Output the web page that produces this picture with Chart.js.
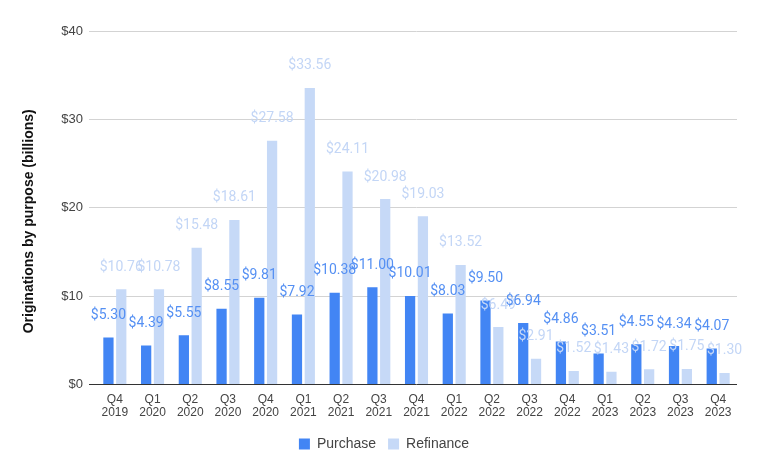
<!DOCTYPE html>
<html>
<head>
<meta charset="utf-8">
<script src="https://cdn.jsdelivr.net/npm/chart.js@4"></script>
<style>
  html, body { margin: 0; padding: 0; background: #fff; }
  #wrap { width: 768px; height: 476px; }
</style>
</head>
<body>
<div id="wrap"><canvas id="myChart" width="768" height="476"></canvas></div>
<script>
var quarters = [
  ['Q4', '2019'], ['Q1', '2020'], ['Q2', '2020'], ['Q3', '2020'], ['Q4', '2020'],
  ['Q1', '2021'], ['Q2', '2021'], ['Q3', '2021'], ['Q4', '2021'],
  ['Q1', '2022'], ['Q2', '2022'], ['Q3', '2022'], ['Q4', '2022'],
  ['Q1', '2023'], ['Q2', '2023'], ['Q3', '2023'], ['Q4', '2023']
];
var purchase = [5.30, 4.39, 5.55, 8.55, 9.81, 7.92, 10.38, 11.00, 10.01, 8.03, 9.50, 6.94, 4.86, 3.51, 4.55, 4.34, 4.07];
var refinance = [10.76, 10.78, 15.48, 18.61, 27.58, 33.56, 24.11, 20.98, 19.03, 13.52, 6.49, 2.91, 1.52, 1.43, 1.72, 1.75, 1.30];
var yTicks = [0, 10, 20, 30, 40];

var labelColors = ['#5590f3', '#c3d6f6'];

// draws the $ value above every bar
var barLabels = {
  id: 'barLabels',
  afterDatasetsDraw: function (chart) {
    var ctx = chart.ctx;
    ctx.save();
    ctx.font = '14px Roboto';
    ctx.textAlign = 'center';
    ctx.textBaseline = 'middle';
    [1, 0].forEach(function (i) {
      var meta = chart.getDatasetMeta(i);
      ctx.fillStyle = labelColors[i];
      meta.data.forEach(function (bar, j) {
        var v = chart.data.datasets[i].data[j];
        ctx.fillText('$' + v.toFixed(2), bar.x, bar.y - 22);
      });
    });
    ctx.restore();
  }
};

var ctx = document.getElementById('myChart').getContext('2d');
var chart = new Chart(ctx, {
  type: 'bar',
  data: {
    labels: quarters,
    datasets: [{
      label: 'Purchase',
      backgroundColor: '#4285f4',
      data: purchase
    }, {
      label: 'Refinance',
      backgroundColor: '#c6d9f7',
      data: refinance
    }]
  },
  options: {
    responsive: false,
    animation: false,
    categoryPercentage: 0.68,
    barPercentage: 0.8,
    layout: { padding: { top: 31, right: 0, left: 0, bottom: 15 } },
    plugins: {
      tooltip: { enabled: false },
      legend: {
        position: 'bottom',
        labels: {
          boxWidth: 11,
          boxHeight: 11,
          padding: 12,
          color: '#444',
          font: { family: 'Liberation Sans', size: 14 }
        }
      }
    },
    scales: {
      x: {
        grid: { display: false },
        border: { display: false },
        afterFit: function (s) { s.height = s.height + 5; },
        ticks: {
          color: '#444',
          font: { family: 'Liberation Sans', size: 12, lineHeight: 1.15 },
          maxRotation: 0,
          autoSkip: false,
          padding: 0
        }
      },
      y: {
        min: 0,
        max: 40,
        afterFit: function (s) { s.width = 96; },
        afterBuildTicks: function (s) {
          s.ticks = yTicks.map(function (v) { return { value: v }; });
        },
        border: { display: false },
        grid: {
          tickLength: 7,
          color: function (c) { return c.tick && c.tick.value === 0 ? '#333' : '#d3d3d3'; }
        },
        ticks: {
          color: '#444',
          padding: 6,
          font: { family: 'Liberation Sans', size: 13 },
          callback: function (v) { return '$' + v; }
        },
        title: {
          display: true,
          text: 'Originations by purpose (billions)       ',
          color: '#111',
          padding: { top: 21, bottom: 0 },
          font: { family: 'Liberation Sans', size: 14, weight: 'bold' }
        }
      },
      // empty right margin so the legend stays centred on the page
      yRight: {
        position: 'right',
        grid: { display: false },
        border: { display: false },
        ticks: { display: false },
        afterFit: function (s) { s.width = 31; }
      }
    }
  },
  plugins: [barLabels]
});
</script>
</body>
</html>
